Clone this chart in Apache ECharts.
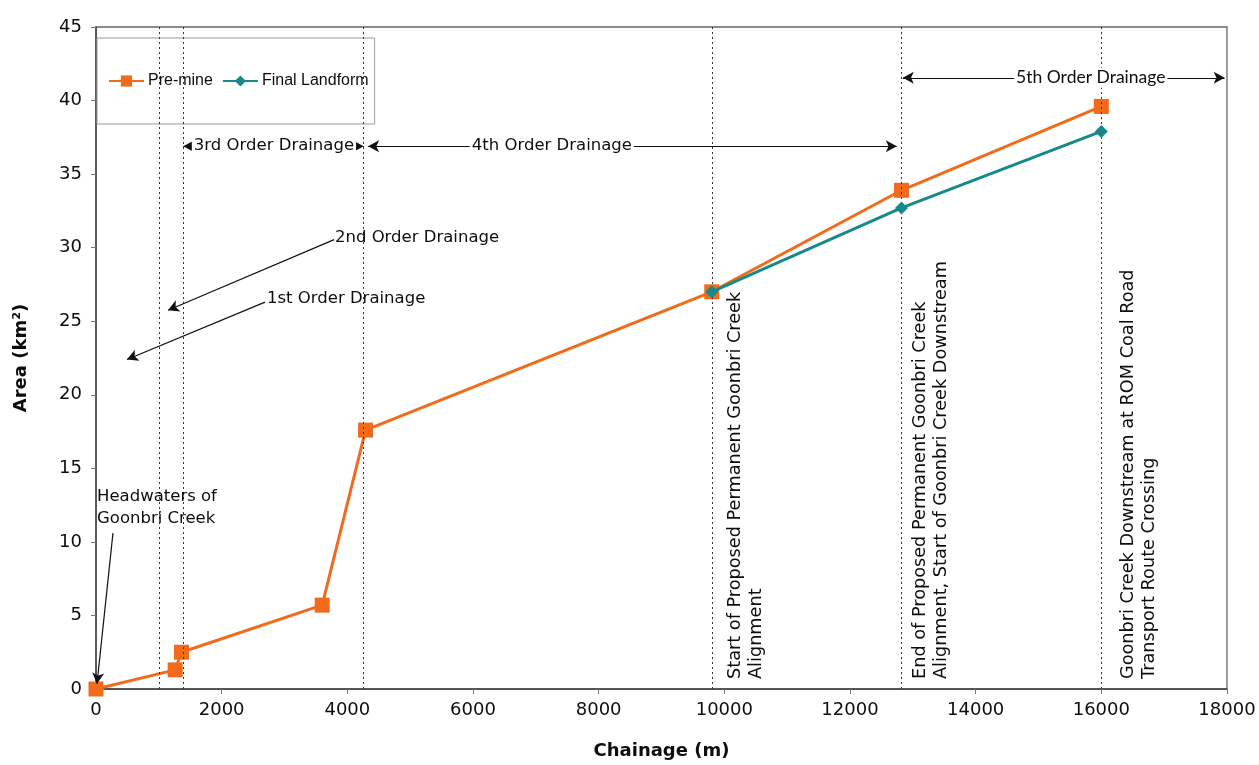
<!DOCTYPE html>
<html>
<head>
<meta charset="utf-8">
<script src="https://cdn.jsdelivr.net/npm/echarts@6/dist/echarts.min.js"></script>
<style>
html,body{margin:0;padding:0;background:#fff;}
#c{width:1259px;height:765px;}
</style>
</head>
<body>
<div id="c"></div>
<script>
// ---- data ----
const chainPre   = [0, 1260, 1360, 3600, 4290, 9800, 12820, 16000];
const areaPre    = [0, 1.3, 2.5, 5.7, 17.6, 27.0, 33.9, 39.6];
const chainFinal = [9800, 12820, 16000];
const areaFinal  = [27.0, 32.7, 37.9];
const boundaries = [1000, 1390, 4260, 9800, 12820, 16000];
const xTicks = [0, 2000, 4000, 6000, 8000, 10000, 12000, 14000, 16000, 18000];
const yTicks = [0, 5, 10, 15, 20, 25, 30, 35, 40, 45];

const FONT = 'DejaVu Sans';
const ORANGE = '#F26A1B';
const TEAL = '#17898A';
const INK = '#0d0d0d';

const chart = echarts.init(document.getElementById('c'), null, {renderer: 'canvas'});

const annotTexts = [
  {value: [2832, 36.9], text: '3rd Order Drainage', align: 'center', bg: true},
  {value: [7255, 36.9], text: '4th Order Drainage', align: 'center', bg: true},
  {value: [15832, 41.55], text: '5th Order Drainage', align: 'center', bg: true, font: 'Lato', size: 17.5},
  {value: [3803, 30.7], text: '2nd Order Drainage', align: 'left', bg: false},
  {value: [2721, 26.5], text: '1st Order Drainage', align: 'left', bg: false},
  {value: [16, 12.3], text: 'Headwaters of\nGoonbri Creek', align: 'left', bg: false, lh: 22}
];

const vertTexts = [
  {value: [9800, 0], text: 'Start of Proposed Permanent Goonbri Creek\nAlignment', dx: 13},
  {value: [12820, 0], text: 'End of Proposed Permanent Goonbri Creek\nAlignment, Start of Goonbri Creek Downstream', dx: 8},
  {value: [16000, 0], text: 'Goonbri Creek Downstream at ROM Coal Road\nTransport Route Crossing', dx: 17}
];

const arrows = [
  {from: [1390, 36.9], to: [4260, 36.9], both: true},
  {from: [4330, 36.9], to: [12745, 36.9], both: true},
  {from: [12840, 41.55], to: [17963, 41.55], both: true},
  {from: [3790, 30.55], to: [1146, 25.75], both: false},
  {from: [2690, 26.3], to: [493, 22.4], both: false},
  {from: [270, 10.6], to: [16, 0.35], both: false}
];

const option = {
  animation: false,
  backgroundColor: '#fff',
  grid: {left: 96, right: 32, top: 27, bottom: 75, show: true, borderColor: '#666', borderWidth: 1.3, backgroundColor: 'transparent'},
  legend: {
    data: ['Pre-mine', 'Final Landform'],
    left: 97, top: 38,
    padding: [35, 6, 35, 11],
    itemWidth: 35, itemHeight: 14, itemGap: 9,
    borderColor: '#999', borderWidth: 1, backgroundColor: '#fff',
    textStyle: {fontFamily: 'Liberation Sans', fontSize: 16, color: INK, padding: [0, 0, 0, -1]}
  },
  xAxis: {
    type: 'value', min: 0, max: 18000, interval: 2000,
    name: 'Chainage (m)', nameLocation: 'middle', nameGap: 53,
    nameTextStyle: {fontFamily: FONT, fontSize: 18, fontWeight: 'bold', color: INK},
    axisLine: {show: true, lineStyle: {color: '#444', width: 1.5}},
    axisTick: {show: true, length: 5, lineStyle: {color: '#777'}},
    splitLine: {show: false},
    axisLabel: {fontFamily: FONT, fontSize: 18, color: INK, margin: 12,
      formatter: v => xTicks.includes(v) ? String(v) : ''}
  },
  yAxis: {
    type: 'value', min: 0, max: 45, interval: 5,
    name: 'Area (km²)', nameLocation: 'middle', nameGap: 66, nameRotate: 90,
    nameTextStyle: {fontFamily: FONT, fontSize: 18, fontWeight: 'bold', color: INK},
    axisLine: {show: true, lineStyle: {color: '#444', width: 1.5}},
    axisTick: {show: true, length: 5, lineStyle: {color: '#777'}},
    splitLine: {show: false},
    axisLabel: {fontFamily: FONT, fontSize: 18, color: INK, margin: 14,
      formatter: v => yTicks.includes(v) ? String(v) : ''}
  },
  series: [
    {
      name: 'guides', type: 'line', data: [], z: 1,
      markLine: {
        silent: true, symbol: ['none', 'none'], animation: false,
        label: {show: false},
        lineStyle: {color: '#333', width: 1, type: [2, 3]},
        data: boundaries.map(b => ({xAxis: b}))
      }
    },
    {
      name: 'arrows', type: 'line', data: [], z: 2,
      markLine: {
        silent: true, animation: false,
        symbolSize: [9, 11],
        label: {show: false},
        lineStyle: {color: '#111', width: 1.2, type: 'solid'},
        data: arrows.map(a => [
          {coord: a.from, symbol: a.both ? 'arrow' : 'none'},
          {coord: a.to, symbol: 'arrow'}
        ])
      }
    },
    {
      name: 'Pre-mine', type: 'line', z: 4,
      data: chainPre.map((c, i) => [c, areaPre[i]]),
      symbol: 'rect', symbolSize: 15,
      lineStyle: {color: ORANGE, width: 3},
      itemStyle: {color: ORANGE}
    },
    {
      name: 'Final Landform', type: 'line', z: 5,
      data: chainFinal.map((c, i) => [c, areaFinal[i]]),
      symbol: 'diamond', symbolSize: 13,
      lineStyle: {color: TEAL, width: 3},
      itemStyle: {color: TEAL}
    },
    {
      name: 'annot', type: 'scatter', z: 6, silent: true,
      symbolSize: 0,
      itemStyle: {opacity: 1},
      data: annotTexts.map(t => ({
        value: t.value,
        label: {
          show: true, position: [0, 0], formatter: t.text,
          align: t.align, verticalAlign: 'middle', opacity: 1,
          fontFamily: t.font || FONT, fontSize: t.size || 16.5, color: INK,
          lineHeight: t.lh || 20,
          backgroundColor: t.bg ? '#fff' : 'transparent',
          padding: t.bg ? [0, 2, 0, 2] : 0
        }
      }))
    },
    {
      name: 'vtext', type: 'scatter', z: 6, silent: true,
      symbolSize: 0,
      itemStyle: {opacity: 1},
      data: vertTexts.map(t => ({
        value: t.value,
        label: {
          show: true, position: [t.dx, -10], rotate: 90, formatter: t.text,
          align: 'left', verticalAlign: 'top', opacity: 1,
          fontFamily: FONT, fontSize: 17.7, lineHeight: 21, color: INK
        }
      }))
    }
  ]
};
chart.setOption(option);
</script>
</body>
</html>
